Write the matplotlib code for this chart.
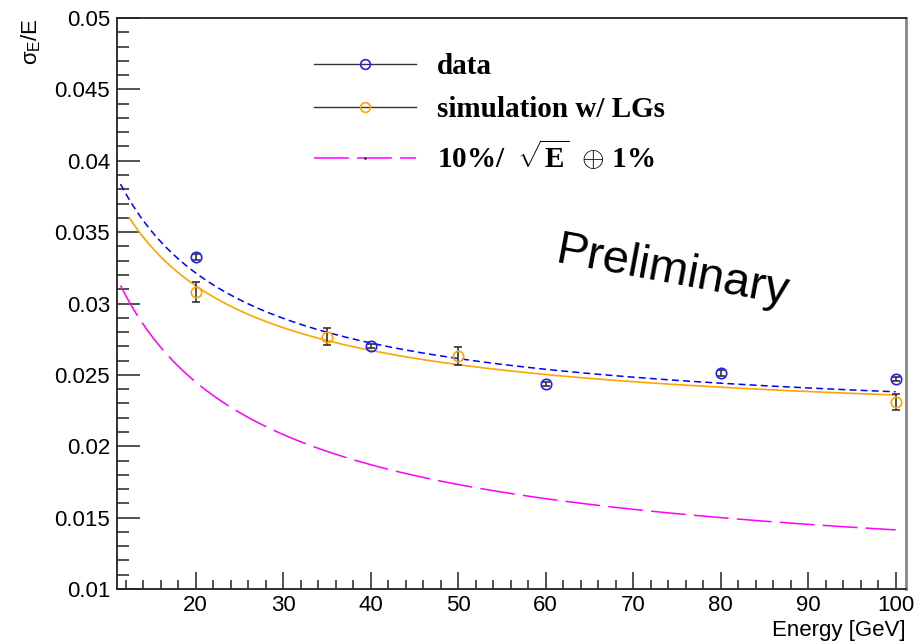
import numpy as np
import matplotlib
matplotlib.use("Agg")
import matplotlib.pyplot as plt
from matplotlib.lines import Line2D
from matplotlib.ticker import MultipleLocator

plt.rcParams["font.family"] = ["Liberation Sans", "DejaVu Sans"]
plt.rcParams["mathtext.fontset"] = "custom"
plt.rcParams["mathtext.rm"] = "Liberation Sans"
plt.rcParams["mathtext.it"] = "Liberation Sans"
plt.rcParams["mathtext.bf"] = "Liberation Serif:bold"
plt.rcParams["lines.scale_dashes"] = False

# measured resolution
data_E = [20, 40, 60, 80, 100]
data_res = [0.03326, 0.02702, 0.02436, 0.02513, 0.02471]
data_err = [0.00022, 0.00015, 0.00015, 0.00018, 0.00015]

# simulation with light guides
sim_E = [20, 35, 50, 100]
sim_res = [0.0308, 0.02767, 0.02632, 0.02312]
sim_err = [0.0007, 0.0006, 0.0006, 0.00055]

# fit parameters: sigma/E = a/sqrt(E) (+) b
data_fit = (0.1079, 0.02123)
sim_fit = (0.1024, 0.02125)
ref_fit = (0.10, 0.01)


def resolution(E, a, b):
    return np.sqrt(a**2 / E + b**2)


fig = plt.figure(figsize=(9.14, 6.41), dpi=100)
ax = fig.add_axes([0.128, 0.0811, 0.8633, 0.8908])

E_data = np.linspace(11.4, 100, 300)
E_sim = np.linspace(12.4, 100, 300)
E_ref = np.linspace(11.4, 100, 300)

ax.plot(E_ref, resolution(E_ref, *ref_fit), color="#ff00ff", lw=1.1, dashes=(25, 6))
ax.plot(E_data, resolution(E_data, *data_fit), color="#0000ff", lw=1.1, dashes=(5, 3))
ax.plot(E_sim, resolution(E_sim, *sim_fit), color="#ffa500", lw=1.2)

ax.errorbar(data_E, data_res, yerr=data_err, fmt="o", ms=7.5, mfc="none", mec="#2020ff",
            mew=1.2, ecolor="#333333", elinewidth=1.2, capsize=3, zorder=5)
ax.errorbar(sim_E, sim_res, yerr=sim_err, fmt="o", ms=7.5, mfc="none", mec="#ffa500",
            mew=1.2, ecolor="#333333", elinewidth=1.2, capsize=3, zorder=5)

ax.set_xlim(11, 101.2)
ax.set_ylim(0.01, 0.05)
ax.xaxis.set_minor_locator(MultipleLocator(2))
ax.yaxis.set_minor_locator(MultipleLocator(0.001))
ax.set_yticks(np.arange(0.01, 0.0501, 0.005))
ax.set_yticklabels(["0.01", "0.015", "0.02", "0.025", "0.03", "0.035", "0.04", "0.045", "0.05"])
ax.set_xticks(np.arange(20, 101, 10))
ax.set_xticklabels([str(v) for v in range(20, 101, 10)])

ax.tick_params(axis="both", which="both", direction="in", top=False, right=False,
               labelsize=16, width=1.2, color="#333333")
ax.tick_params(axis="x", which="major", length=12, pad=4)
ax.tick_params(axis="x", which="minor", length=6.5)
ax.tick_params(axis="y", which="major", length=16.5, pad=5)
ax.tick_params(axis="y", which="minor", length=8.6)

for side in ["left", "bottom", "top"]:
    ax.spines[side].set_linewidth(1.3)
    ax.spines[side].set_color("#222222")
ax.spines["right"].set_linewidth(2)
ax.spines["right"].set_color("#888888")

ax.set_xlabel("Energy [GeV]", fontsize=16, loc="right", labelpad=3)
ax.set_ylabel(r"$\sigma_{E}$/E", fontsize=16, loc="top", labelpad=8)

ax.text(74.4, 0.0322, "Preliminary", fontsize=34, rotation=-10.5, ha="center", va="center",
        rotation_mode="anchor")

handles = [
    Line2D([], [], color="#333333", lw=1, marker="o", ms=7, mfc="none", mec="#2020ff", mew=1.2),
    Line2D([], [], color="#333333", lw=1, marker="o", ms=7, mfc="none", mec="#ffa500", mew=1.2),
    Line2D([], [], color="#ff00ff", lw=1.1, dashes=(25, 6), marker=".", ms=2, mec="#333333", mfc="#333333"),
]
labels = ["data", "simulation w/ LGs", r"10%/  $\sqrt{\mathbf{E}}$  $\oplus$ 1%"]
ax.legend(handles, labels, loc="upper left", bbox_to_anchor=(0.2167, 0.984), frameon=False,
          numpoints=1, handlelength=3.5, handletextpad=0.72, labelspacing=0.55,
          prop={"family": "Liberation Serif", "weight": "bold", "size": 21})

fig.savefig("out.png", dpi=100)
